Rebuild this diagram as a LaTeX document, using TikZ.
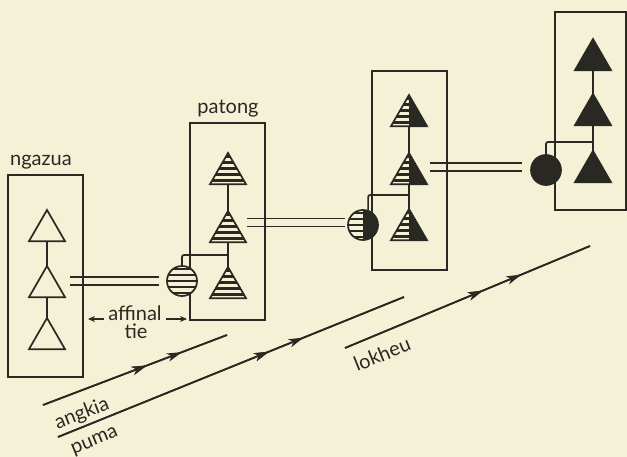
\documentclass[tikz,border=0pt]{standalone}
\usepackage{fontspec}
\setmainfont{Lato}
\usetikzlibrary{shapes.geometric,arrows.meta,decorations.markings}
\definecolor{paper}{RGB}{245,241,214}
\definecolor{ink}{RGB}{42,40,35}
\begin{document}
\begin{tikzpicture}[x=1pt,y=-1pt,
  kin/.style={draw=ink, line width=1.7pt, fill=paper, inner sep=0pt, outer sep=0pt},
  tri/.style={kin, regular polygon, regular polygon sides=3, minimum size=41.6pt},
  circ/.style={kin, circle, minimum size=30pt},
  group/.style={draw=ink, line width=1.7pt, rectangle, inner sep=0pt, outer sep=0pt},
  stripes/.style={path picture={
      \foreach \k in {-5,...,5}{
        \draw[ink, line width=2.8pt] ([yshift=\k*6pt]path picture bounding box.center)
          ++(-30pt,0) -- ++(60pt,0);}}},
  halfhatch/.style={path picture={
      \fill[ink] (path picture bounding box.north) rectangle (path picture bounding box.south east);
      \foreach \k in {-5,...,5}{
        \draw[ink, line width=2.8pt] ([yshift=\k*6pt]path picture bounding box.center)
          -- ++(-30pt,0);}}},
  solid/.style={fill=ink},
  tie/.style={draw=ink, line width=1.7pt, double=paper, double distance=6.3pt},
  link/.style={draw=ink, line width=1.7pt},
  label/.style={text=ink, inner sep=0pt, font=\fontsize{20}{22}\selectfont},
  descent/.style={draw=ink, line width=1.7pt, postaction={decorate},
    decoration={markings,
      mark=at position #1 with {\arrow{Stealth[length=15pt,width=8.5pt,inset=4pt]}}}},
  small/.style={draw=ink, line width=1.4pt, -{Stealth[length=7pt,width=6pt]}}
]
\fill[paper] (0,0) rectangle (627,457);
\useasboundingbox (0,0) rectangle (627,457);

% affinal ties between adjacent groups
\coordinate (d1a) at (70,281);  \coordinate (d1b) at (159,281);
\coordinate (d2a) at (247,222.5); \coordinate (d2b) at (345,222.5);
\coordinate (d3a) at (430,167); \coordinate (d3b) at (522,167);
\draw[tie] (d1a) -- (d1b);
\draw[tie] (d2a) -- (d2b);
\draw[tie] (d3a) -- (d3b);

% group frames
\node[group, minimum width=75pt, minimum height=202pt] (b1) at (45.5,276) {};
\node[group, minimum width=75pt, minimum height=197pt] (b2) at (227.5,221.5) {};
\node[group, minimum width=75pt, minimum height=199pt] (b3) at (409.5,170.5) {};
\node[group, minimum width=71pt, minimum height=198pt] (b4) at (590.5,111) {};

\node[label] (ngazua) at (41,162) {ngazua};
\node[label] (patong) at (228,109) {patong};

% ngazua line
\node[tri] (t1a) at (47,230.8) {};
\node[tri] (t1b) at (47,286.8) {};
\node[tri] (t1c) at (47,338.8) {};
\draw[link] (t1a.side 2) -- (t1b.corner 1);
\draw[link] (t1b.side 2) -- (t1c.corner 1);

% patong line
\node[tri, stripes] (t2a) at (228,173.8) {};
\node[tri, stripes] (t2b) at (228,231.8) {};
\node[tri, stripes] (t2c) at (228,287.8) {};
\draw[link] (t2a.side 2) -- (t2b.corner 1);
\draw[link] (t2b.side 2) -- (t2c.corner 1);
\coordinate (j2) at (228,255);
\node[circ, stripes] (c2) at (182,281) {};
\draw[link, rounded corners=2pt] (c2.north) |- (j2);

% third line
\node[tri, halfhatch] (t3a) at (409,115.8) {};
\node[tri, halfhatch] (t3b) at (409,173.8) {};
\node[tri, halfhatch] (t3c) at (409,229.8) {};
\draw[link] (t3a.side 2) -- (t3b.corner 1);
\draw[link] (t3b.side 2) -- (t3c.corner 1);
\coordinate (j3) at (409,195);
\node[circ, halfhatch] (c3) at (363,225) {};
\draw[link, rounded corners=2pt] (c3.70) |- (j3);

% fourth line
\node[tri, solid] (t4a) at (593,59.8) {};
\node[tri, solid] (t4b) at (593,114.8) {};
\node[tri, solid] (t4c) at (593,171.8) {};
\draw[link] (t4a.side 2) -- (t4b.corner 1);
\draw[link] (t4b.side 2) -- (t4c.corner 1);
\coordinate (j4) at (593,142);
\node[circ, solid] (c4) at (546,170) {};
\draw[link, rounded corners=2pt] (c4.north) |- (j4);

% affinal tie label
\node[label, anchor=base] (aff) at (135,320) {affinal};
\node[label, anchor=base] (tiel) at (136,338) {tie};
\coordinate (aL) at ([shift={(-4pt,1pt)}]aff.base west);
\coordinate (aR) at ([shift={(4pt,1pt)}]aff.base east);
\draw[small] (aL) -- ([xshift=5pt]b1.east |- aL);
\draw[small] (aR) -- ([xshift=-3pt]b2.west |- aR);

% lines of descent
\coordinate (a0) at (43,405);  \coordinate (a1) at (227,335);
\coordinate (p0) at (58,437);  \coordinate (p1) at (404,297);
\coordinate (l0) at (345,348); \coordinate (l1) at (590,246);
\draw[descent=0.565, postaction={descent=0.755}] (a0) -- (a1);
\draw[descent=0.61, postaction={descent=0.71}] (p0) -- (p1);
\draw[descent=0.563, postaction={descent=0.72}] (l0) -- (l1);

\node[label, rotate=21] (angkia) at (82,414) {angkia};
\node[label, rotate=22] (puma) at (95,442) {puma};
\node[label, rotate=22] (lokheu) at (382,354) {lokheu};
\end{tikzpicture}
\end{document}
